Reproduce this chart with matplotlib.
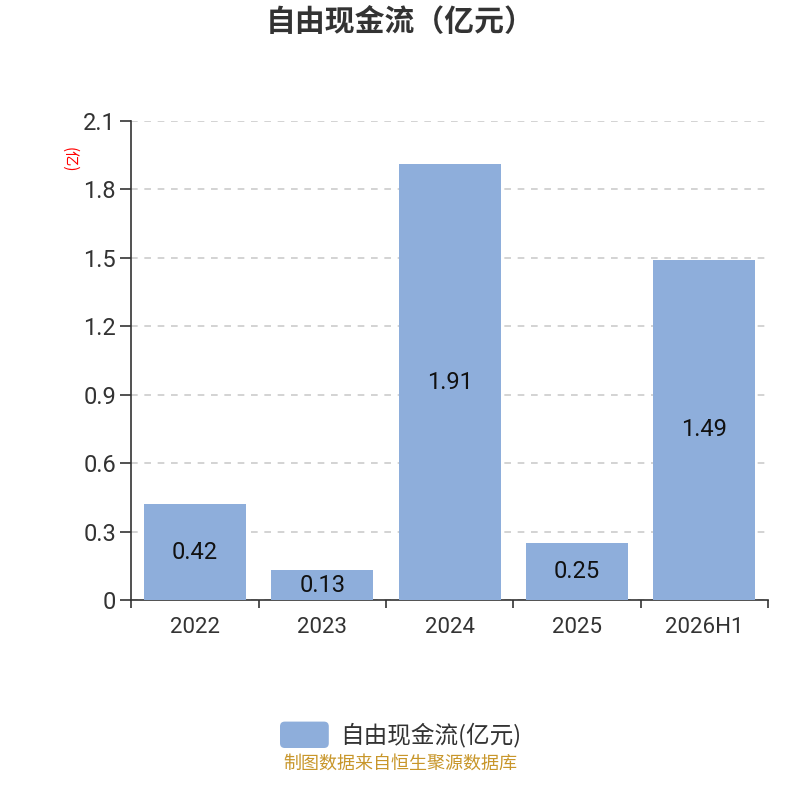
import matplotlib.pyplot as plt
import numpy as np
from matplotlib.patches import FancyBboxPatch

plt.rcParams['font.family'] = ['Noto Sans CJK SC', 'DejaVu Sans']

categories = ['2022', '2023', '2024', '2025', '2026H1']
values = [0.42, 0.13, 1.91, 0.25, 1.49]
y_ticks = [0, 0.3, 0.6, 0.9, 1.2, 1.5, 1.8, 2.1]
y_tick_labels = ['0', '0.3', '0.6', '0.9', '1.2', '1.5', '1.8', '2.1']

bar_color = '#8eaedb'
axis_color = '#333333'
num_font = ['Roboto', 'DejaVu Sans']

fig = plt.figure(figsize=(8, 8), dpi=100)
ax = fig.add_axes([0.164, 0.25, 0.796, 0.599])

x = np.arange(len(categories))
bars = ax.bar(x, values, width=0.8, color=bar_color, zorder=3)

for xi, v in zip(x, values):
    ax.text(xi, v / 2, f'{v:.2f}', ha='center', va='center', fontsize=17,
            family=num_font, color='#111111', zorder=4)

ax.set_xlim(-0.5, len(categories) - 0.5)
ax.set_ylim(0, 2.1)
ax.set_yticks(y_ticks)
ax.set_yticklabels(y_tick_labels, fontsize=17, family=num_font, color=axis_color)
ax.yaxis.grid(True, linestyle=(0, (4, 4)), color='#cccccc', linewidth=1.2, zorder=0)

# category labels in the middle, tick marks on the boundaries
ax.set_xticks(x)
ax.set_xticklabels(categories, fontsize=16, family=num_font, color=axis_color)
ax.tick_params(axis='x', which='major', length=0, pad=12)
ax.set_xticks(np.arange(-0.5, len(categories)), minor=True)
ax.tick_params(axis='x', which='minor', length=6, width=1.2, color=axis_color)
ax.tick_params(axis='y', length=8, width=1.2, color=axis_color, pad=3)

for side in ['top', 'right']:
    ax.spines[side].set_visible(False)
for side in ['left', 'bottom']:
    ax.spines[side].set_color(axis_color)
    ax.spines[side].set_linewidth(1.2)

# unit label
fig.text(0.087, 0.8, '(亿)', color='red', fontsize=11, rotation=270, ha='center', va='center')

fig.text(0.5, 0.972, '自由现金流（亿元）', ha='center', va='center', fontsize=21.5,
         fontweight='bold', color='#333333')

# legend
leg_box = FancyBboxPatch((0.35, 0.065), 0.061, 0.033, boxstyle='round,pad=0,rounding_size=0.006',
                         transform=fig.transFigure, facecolor=bar_color, edgecolor='none')
fig.patches.append(leg_box)
fig.text(0.425, 0.0815, '自由现金流(亿元)', ha='left', va='center', fontsize=17, color='#333333')

fig.text(0.5, 0.046, '制图数据来自恒生聚源数据库', ha='center', va='center', fontsize=13, color='#c8962a')

fig.savefig('out.png', dpi=100)
